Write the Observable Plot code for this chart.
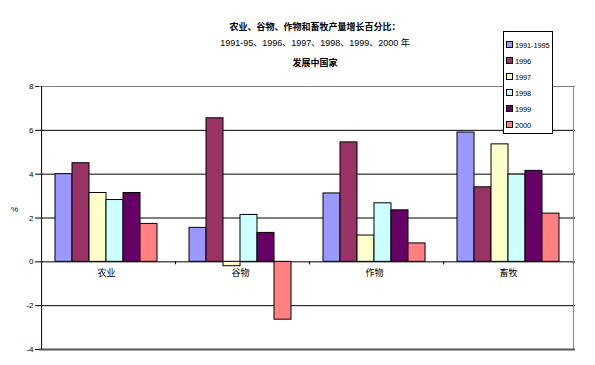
<!DOCTYPE html>
<html>
<head>
<meta charset="utf-8">
<script src="https://cdn.jsdelivr.net/npm/d3@7"></script>
<script src="https://cdn.jsdelivr.net/npm/@observablehq/plot@0.6"></script>
<style>
  html, body { margin: 0; padding: 0; background: #fff; }
  #wrap { position: relative; width: 595px; height: 365px; overflow: hidden; font-family: "Liberation Sans", Arial, sans-serif; }
  #wrap svg { position: absolute; left: 0; top: 0; }
  .t { position: absolute; left: 0; width: 630px; text-align: center; white-space: nowrap; color: #000; }
  .t1 { top: 20px; font: bold 9px "Noto Sans CJK SC", sans-serif; }
  .t2 { top: 36px; font: 9px "Liberation Sans", "Noto Sans CJK SC", sans-serif; }
  .t3 { top: 56px; font: bold 9px "Noto Sans CJK SC", sans-serif; }
  #ylab { position: absolute; left: 11px; top: 205px; font: 8px "Liberation Sans", sans-serif; }
  #legend { position: absolute; left: 503px; top: 31px; width: 48px; height: 101px; border: 1px solid #000; background: #fff; }
  .li { position: absolute; left: 2px; height: 10px; font: 7.4px "Liberation Sans", sans-serif; letter-spacing: -0.1px; line-height: 10px; white-space: nowrap; }
  .sw { display: inline-block; width: 5px; height: 5px; border: 1px solid #000; margin-right: 2px; vertical-align: 0px; }
</style>
</head>
<body>
<div id="wrap">
  <div class="t t1">农业、谷物、作物和畜牧产量增长百分比：</div>
  <div class="t t2">1991-95、1996、1997、1998、1999、2000 年</div>
  <div class="t t3">发展中国家</div>
  <div id="ylab">%</div>
  <div id="legend"></div>
</div>
<script>
const categories = ["农业", "谷物", "作物", "畜牧"];
const series = ["1991-1995", "1996", "1997", "1998", "1999", "2000"];
const colors = ["#9999FF", "#993366", "#FFFFCC", "#CCFFFF", "#660066", "#FF8080"];
const v1991_1995 = [4.0, 1.55, 3.12, 5.9];
const v1996 = [4.5, 6.55, 5.45, 3.4];
const v1997 = [3.14, -0.2, 1.2, 5.36];
const v1998 = [2.82, 2.14, 2.67, 3.98];
const v1999 = [3.14, 1.32, 2.35, 4.15];
const v2000 = [1.73, -2.64, 0.84, 2.2];
const yTicks = [-4, -2, 0, 2, 4, 6, 8];

const seriesValues = [v1991_1995, v1996, v1997, v1998, v1999, v2000];
const rows = [];
categories.forEach((c, i) => series.forEach((s, j) => rows.push({category: c, series: s, value: seriesValues[j][i]})));

const W = 595, H = 365;
const mL = 38, mR = 19, mT = 86, mB = 16;
const outerPad = 0.75;
const facetW = (W - mL - mR) / categories.length;
const barStep = facetW / (series.length + 2 * outerPad);
const edgeDx = barStep / 2 + outerPad * barStep;

const chart = Plot.plot({
  width: W, height: H,
  marginLeft: mL, marginRight: mR, marginTop: mT, marginBottom: mB,
  style: {fontFamily: "Liberation Sans, Arial, sans-serif", fontSize: "8px", background: "transparent"},
  fx: {domain: categories, padding: 0, axis: null},
  x: {domain: series, paddingInner: 0, paddingOuter: outerPad, axis: null},
  y: {domain: [-4, 8], ticks: yTicks, tickSize: 4, tickPadding: 2, tickFormat: d => d, label: null},
  color: {domain: series, range: colors},
  marks: [
    Plot.ruleY(yTicks.filter(t => t > -4 && t < 8), {y: d => d, stroke: "#000", strokeWidth: 1}),
    Plot.ruleY([8], {stroke: "#808080", strokeWidth: 1}),
    Plot.ruleY([-4], {stroke: "#555", strokeWidth: 2}),
    Plot.barY(rows, {fx: "category", x: "series", y: "value", fill: "series", stroke: "#000", strokeWidth: 1}),
    Plot.ruleX(categories, {fx: d => d, x: () => series[0], y1: 0, y2: -0.14, dx: -edgeDx, stroke: "#000"}),
    Plot.ruleX(categories.slice(-1), {fx: d => d, x: () => series[series.length - 1], y1: 0, y2: -0.14, dx: edgeDx, stroke: "#000"}),
    Plot.ruleX(categories.slice(0, 1), {fx: d => d, x: () => series[0], y1: -4, y2: 8, dx: -edgeDx, stroke: "#000"}),
    Plot.ruleX(categories.slice(-1), {fx: d => d, x: () => series[series.length - 1], y1: -4, y2: 8, dx: edgeDx, stroke: "#808080"}),
    Plot.text(categories, {fx: d => d, y: () => 0, text: d => d, dy: 11, fontSize: 9, fontFamily: "Noto Sans CJK SC, sans-serif", fill: "#000"})
  ]
});
document.getElementById("wrap").insertBefore(chart, document.getElementById("wrap").firstChild);

const legend = document.getElementById("legend");
const rowTop = [9, 25, 41, 57, 73, 89];
series.forEach((s, i) => {
  const d = document.createElement("div");
  d.className = "li";
  d.style.top = rowTop[i] + "px";
  d.innerHTML = `<span class="sw" style="background:${colors[i]}"></span>${s}`;
  legend.appendChild(d);
});
</script>
</body>
</html>
